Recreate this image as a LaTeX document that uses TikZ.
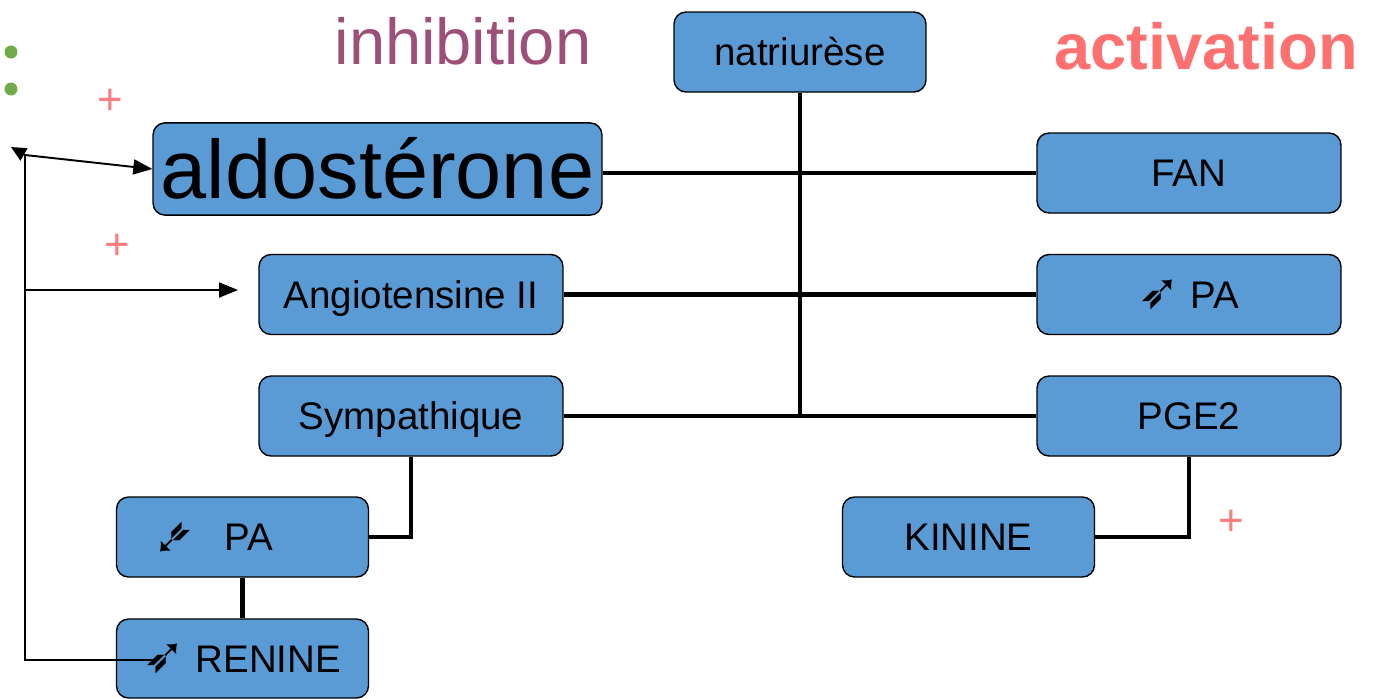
\documentclass[tikz,border=0pt]{standalone}
\usepackage{fontspec}
\setmainfont{Liberation Sans}
\newfontfamily\symfont{DejaVu Sans}
\usetikzlibrary{arrows.meta, positioning}
\definecolor{boxblue}{RGB}{91,155,213}
\definecolor{inhibcol}{RGB}{158,79,119}
\definecolor{activcol}{RGB}{255,113,113}
\definecolor{pluscol}{RGB}{255,124,128}
\definecolor{dotgreen}{RGB}{112,173,71}
\tikzset{
  box/.style={rectangle, draw=black, fill=boxblue, rounded corners=0.24cm,
    line width=0.8pt, minimum height=1.6cm, inner sep=0pt,
    font=\fontsize{21.9}{24}\selectfont, text height=20pt, text depth=4.4pt},
  widebox/.style={box, minimum width=6.08cm},
  midbox/.style={box, minimum width=5.04cm},
  title/.style={inner sep=0pt, font=\fontsize{37}{40}\selectfont},
  plus/.style={inner sep=0pt, text=pluscol, font=\fontsize{25}{27}\selectfont},
  link/.style={line width=2.3pt, color=black},
  feed/.style={line width=1.1pt, color=black},
  feedarrow/.style={feed, -{Triangle[length=0.38cm, width=0.3cm]}}
}
\newcommand{\uparr}{\scalebox{1.3}{\symfont ➶}}
\newcommand{\downarr}{\rotatebox[origin=c]{180}{\scalebox{1.3}{\symfont ➶}}}

\begin{document}
\begin{tikzpicture}[x=0.02cm, y=-0.02cm]
  \useasboundingbox (0,0) rectangle (1382,698);

  % titles
  \node[title, text=inhibcol] (inhib) at (463,41) {inhibition};
  \node[title, text=activcol, font=\fontsize{37}{40}\selectfont\bfseries] (activ) at (1206,46) {activation};

  % boxes
  \node[midbox] (natri) at (800,52) {natriurèse};
  \node[box, minimum width=8.98cm, minimum height=1.76cm, font=\fontsize{47.2}{50}\selectfont,
    text height=43pt, text depth=9.5pt] (aldo) at (377.5,169) {aldostérone};
  \node[widebox] (fan) at (1189,173) {FAN};
  \node[widebox] (angio) at (411,294.5) {Angiotensine II};
  \node[widebox] (paup) at (1189,294.5) {\uparr\hspace{0.2cm}PA};
  \node[widebox] (symp) at (411,416) {Sympathique};
  \node[widebox] (pge) at (1189,416) {PGE2};
  \node[midbox] (padown) at (242.5,537) {\downarr\hspace{0.6cm}PA\hspace{1.2cm}\null};
  \node[midbox] (kinine) at (968.5,537) {KININE};
  \node[midbox, minimum height=1.58cm] (renine) at (242.5,658.5) {\uparr\hspace{0.2cm}RENINE};

  % links
  \coordinate (trunk) at (800,416);
  \draw[link] (natri.south) -- (trunk);
  \draw[link] (fan.west) -- (fan.west -| aldo.east);
  \draw[link] (angio.east) -- (paup.west);
  \draw[link] (symp.east) -- (pge.west);
  \draw[link] (symp.south) |- (padown.east);
  \draw[link] (padown) -- (renine);
  \draw[link] (pge.south) |- (kinine.east);

  % feedback loop
  \coordinate (rentip) at (158,660);
  \coordinate (bottom) at (25,660);
  \coordinate (corner) at (25,155);
  \coordinate (stub) at (11,147);
  \coordinate (midleft) at (25,290);
  \coordinate (angarrow) at (238,290);
  \draw[feed] (rentip) -- (bottom) -- (corner);
  \draw[feedarrow] (corner) -- (aldo.west);
  \draw[feedarrow, -{Triangle[length=0.3cm, width=0.28cm]}] (corner) -- (stub);
  \draw[feedarrow] (midleft) -- (angarrow);

  % signs
  \node[plus] (plusa) at (110,102) {+};
  \node[plus] (plusb) at (117,247) {+};
  \node[plus] (plusc) at (1231,523) {+};
  \fill[dotgreen] (11,52) circle[radius=0.13cm];
  \fill[dotgreen] (11,89) circle[radius=0.13cm];
\end{tikzpicture}
\end{document}
